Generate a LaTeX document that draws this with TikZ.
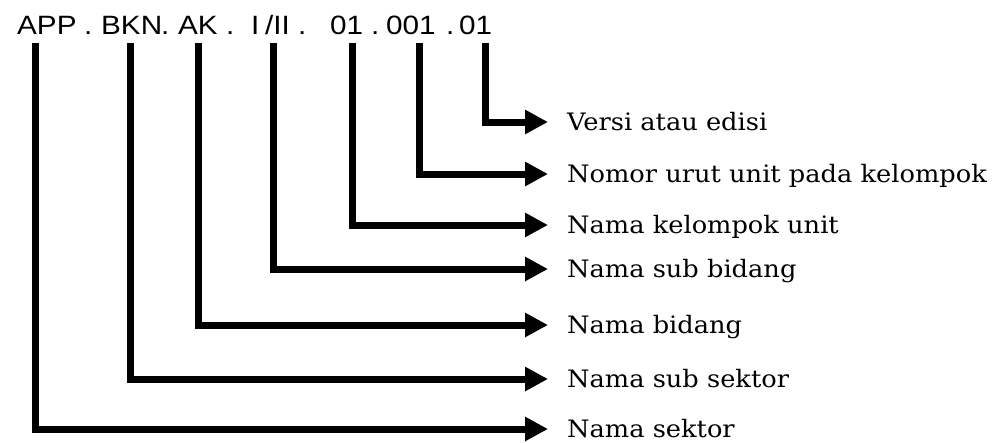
\documentclass[tikz,border=0pt]{standalone}
\usepackage{fontspec}
\usetikzlibrary{arrows.meta}
\newfontfamily\codefont[FakeStretch=1.12]{Liberation Sans}
\newfontfamily\labfont[FakeStretch=1.07]{DejaVu Serif}
\begin{document}
\begin{tikzpicture}[x=1pt,y=-1pt,
  seg/.style={font=\codefont\fontsize{26.5}{26.5}\selectfont, inner sep=0pt, anchor=base west},
  lab/.style={font=\labfont\fontsize{24}{24}\selectfont, inner sep=0pt, anchor=west, text height=16pt, text depth=0pt},
  conn/.style={line width=7pt, line join=miter, -{Triangle[length=23pt,width=23pt]}}]
\useasboundingbox (0,0) rectangle (1001,442);
% code segments
\node[seg] (s1) at (17,34) {APP};
\node[seg] (d1) at (84,34) {.};
\node[seg] (s2) at (101,34) {BKN};
\node[seg] (d2) at (161,34) {.};
\node[seg] (s3) at (178,34) {AK};
\node[seg] (d3) at (226,34) {.};
\node[seg] (s4a) at (251,34) {I};
\node[seg] (s4b) at (265,34) {/II};
\node[seg] (d4) at (298,34) {.};
\node[seg] (s5) at (330,34) {01};
\node[seg] (d5) at (371,34) {.};
\node[seg] (s6) at (386,34) {001};
\node[seg] (d6) at (446,34) {.};
\node[seg] (s7) at (459,34) {01};
% line tops
\coordinate (t1) at (35,43);
\coordinate (t2) at (130,43);
\coordinate (t3) at (198,43);
\coordinate (t4) at (273,43);
\coordinate (t5) at (352,43);
\coordinate (t6) at (419,43);
\coordinate (t7) at (485,43);
% labels
\node[lab] (l7) at (567,122) {Versi atau edisi};
\node[lab] (l6) at (567,174) {Nomor urut unit pada kelompok};
\node[lab] (l5) at (567,225) {Nama kelompok unit};
\node[lab] (l4) at (567,269) {Nama sub bidang};
\node[lab] (l3) at (567,325) {Nama bidang};
\node[lab] (l2) at (567,379) {Nama sub sektor};
\node[lab] (l1) at (567,429) {Nama sektor};
% connectors
\foreach \i in {1,...,7}{
  \draw[conn] (t\i) |- ([xshift=-19pt]l\i.west);
}
\end{tikzpicture}
\end{document}
